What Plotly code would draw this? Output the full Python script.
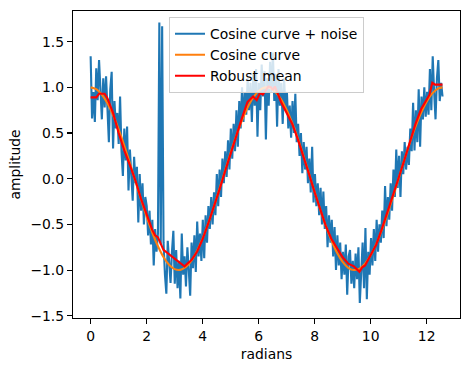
import numpy as np
import plotly.graph_objects as go

# Noisy cosine samples, evenly spaced over [0, 4*pi]
noisy_y = [
    1.34, 0.66, 0.95, 0.62, 1.21, 0.86, 1.30, 1.02, 0.65, 1.10,
    0.78, 1.12, 0.70, 0.40, 0.98, 1.17, 0.33, 0.85, 0.55, 0.72,
    0.38, 0.90, 0.30, 0.03, 0.55, 0.20, 0.57, -0.13, 0.32, 0.05,
    -0.24, 0.24, -0.05, 0.13, -0.48, 0.05, -0.35, -0.05, -0.50, -0.20,
    -0.30, -0.62, -0.35, -0.72, -0.45, -0.95, -0.55, -0.80, -0.60, 1.71,
    -0.72, 1.67, -0.70, -1.05, -1.26, -0.68, -0.95, -1.14, -0.80, -0.57,
    -1.15, -0.78, -1.20, -0.90, -1.31, -0.60, -1.05, -0.85, -1.18, -0.75,
    -1.00, -1.28, -0.70, -0.98, -0.62, -1.02, -0.47, -0.85, -0.60, -0.90,
    -0.45, -0.87, -0.40, -0.70, -0.30, -0.55, -0.20, -0.50, -0.15, -0.40,
    0.05, -0.30, 0.10, -0.20, 0.22, -0.05, 0.30, 0.02, 0.42, 0.10,
    0.55, 0.22, 0.60, 0.30, 0.75, 0.35, 0.85, 0.55, 1.00, 0.62,
    0.95, 0.70, 1.10, 0.75, 1.05, 0.62, 1.15, 0.80, 1.20, 0.46,
    1.05, 0.75, 1.25, 0.90, 1.18, 0.43, 1.10, 0.80, 1.28, 0.95,
    1.38, 0.85, 1.15, 0.57, 1.20, 0.80, 1.05, 0.60, 1.10, 0.75,
    0.95, 0.55, 0.80, 0.45, 0.85, 0.50, 0.93, 0.40, 0.60, 0.25,
    0.50, 0.06, 0.40, 0.10, 0.35, -0.05, 0.22, -0.15, 0.35, -0.26,
    0.05, -0.30, -0.05, -0.40, -0.10, -0.50, -0.14, -0.55, -0.30, -0.75,
    -0.40, -0.70, -0.45, -0.85, -0.53, -1.00, -0.62, -0.95, -0.70, -1.10,
    -0.80, -1.05, -0.72, -1.27, -0.85, -0.78, -1.15, -0.90, -1.20, -0.82,
    -1.10, -0.75, -1.36, -0.95, -0.70, -1.20, -0.54, -1.32, -0.80, -1.05,
    -0.65, -0.95, -0.55, -0.90, -0.45, -0.80, -0.50, -0.70, -0.35, -0.65,
    -0.08, -0.52, -0.20, -0.45, -0.05, -0.35, 0.10, -0.20, 0.32, -0.10,
    0.25, -0.20, 0.30, 0.05, 0.40, 0.10, 0.35, 0.15, 0.55, 0.30,
    0.83, 0.31, 0.75, 0.40, 0.98, 0.35, 0.90, 0.65, 1.00, 0.68,
    0.95, 0.70, 1.20, 0.75, 1.34, 0.95, 0.65, 1.10, 1.30, 0.85,
    1.05, 0.90,
]
noisy_x = np.linspace(0, 4 * np.pi, len(noisy_y))

# Clean cosine curve (read values)
cos_x = [0.0, 0.2, 0.4, 0.6, 0.8, 1.0, 1.2, 1.4, 1.6, 1.8, 2.0, 2.2, 2.4, 2.6, 2.8,
         3.0, 3.2, 3.4, 3.6, 3.8, 4.0, 4.2, 4.4, 4.6, 4.8, 5.0, 5.2, 5.4, 5.6, 5.8,
         6.0, 6.2, 6.4, 6.6, 6.8, 7.0, 7.2, 7.4, 7.6, 7.8, 8.0, 8.2, 8.4, 8.6, 8.8,
         9.0, 9.2, 9.4, 9.6, 9.8, 10.0, 10.2, 10.4, 10.6, 10.8, 11.0, 11.2, 11.4,
         11.6, 11.8, 12.0, 12.2, 12.4, 12.566]
cos_y = [1.000, 0.980, 0.921, 0.825, 0.697, 0.540, 0.362, 0.170, -0.029, -0.227,
         -0.416, -0.589, -0.737, -0.857, -0.942, -0.990, -0.998, -0.967, -0.897,
         -0.791, -0.654, -0.490, -0.307, -0.112, 0.087, 0.284, 0.469, 0.635, 0.776,
         0.886, 0.960, 0.997, 0.993, 0.950, 0.869, 0.754, 0.608, 0.439, 0.251, 0.054,
         -0.146, -0.339, -0.519, -0.676, -0.811, -0.911, -0.975, -0.999, -0.985,
         -0.930, -0.839, -0.714, -0.560, -0.385, -0.194, 0.004, 0.203, 0.394, 0.569,
         0.721, 0.844, 0.934, 0.986, 1.000]

# Robust mean (read values)
robust_x = [0.0, 0.2, 0.3, 0.5, 0.6, 0.8, 1.0, 1.2, 1.4, 1.6, 1.8, 2.0, 2.2, 2.3, 2.4,
            2.6, 2.8, 3.0, 3.2, 3.35, 3.45, 3.6, 3.8, 4.0, 4.2, 4.4, 4.6, 4.8, 5.0,
            5.2, 5.4, 5.6, 5.8, 5.93, 6.05, 6.15, 6.35, 6.45, 6.5, 6.58, 6.8, 7.0,
            7.2, 7.4, 7.6, 7.8, 8.0, 8.2, 8.4, 8.6, 8.8, 9.0, 9.2, 9.4, 9.6, 9.7,
            9.8, 10.0, 10.2, 10.4, 10.6, 10.8, 11.0, 11.2, 11.4, 11.6, 11.8, 12.0,
            12.1, 12.2, 12.3, 12.566]
robust_y = [0.89, 0.89, 0.93, 0.93, 0.88, 0.72, 0.50, 0.31, 0.15, -0.02, -0.22,
            -0.40, -0.56, -0.62, -0.64, -0.78, -0.83, -0.87, -0.93, -0.96, -0.93,
            -0.89, -0.80, -0.66, -0.49, -0.31, -0.12, 0.08, 0.28, 0.46, 0.66, 0.84,
            0.90, 0.86, 0.94, 0.92, 1.01, 1.00, 0.97, 1.01, 0.84, 0.72, 0.60, 0.43,
            0.25, 0.05, -0.15, -0.34, -0.52, -0.66, -0.76, -0.86, -0.93, -0.96,
            -1.02, -0.97, -0.95, -0.84, -0.72, -0.55, -0.37, -0.18, 0.01, 0.20,
            0.40, 0.60, 0.76, 0.86, 0.92, 1.05, 1.03, 1.03]

x_ticks = [0, 2, 4, 6, 8, 10, 12]
y_ticks = [-1.5, -1.0, -0.5, 0.0, 0.5, 1.0, 1.5]

FONT = "DejaVu Sans"
FS = 13.9

fig = go.Figure()
fig.add_trace(go.Scatter(x=noisy_x, y=noisy_y, mode="lines", name="Cosine curve + noise",
                         line=dict(color="#1f77b4", width=2.1)))
fig.add_trace(go.Scatter(x=cos_x, y=cos_y, mode="lines", name="Cosine curve",
                         line=dict(color="#ff7f0e", width=2.1, shape="spline")))
fig.add_trace(go.Scatter(x=robust_x, y=robust_y, mode="lines", name="Robust mean",
                         line=dict(color="#ff0000", width=2.1)))

axis_common = dict(
    showgrid=False, zeroline=False, showline=True, linecolor="black", linewidth=1.1,
    mirror=True, ticks="outside", ticklen=5, tickwidth=1.1, tickcolor="black",
    tickfont=dict(family=FONT, size=FS, color="black"), automargin=False,
)

fig.update_layout(
    width=470, height=371,
    margin=dict(l=73, r=10, t=11, b=53),
    paper_bgcolor="white", plot_bgcolor="white",
    font=dict(family=FONT, size=FS, color="black"),
    xaxis=dict(range=[-0.63, 13.19], tickvals=x_ticks,
               title=dict(text="radians", font=dict(family=FONT, size=FS), standoff=6),
               **axis_common),
    yaxis=dict(range=[-1.525, 1.836], tickvals=y_ticks, tickformat=".1f",
               title=dict(text="amplitude", font=dict(family=FONT, size=FS), standoff=6),
               **axis_common),
    legend=dict(x=0.5, xanchor="center", y=0.98, yanchor="top",
                bgcolor="rgba(255,255,255,0.8)", bordercolor="#cccccc", borderwidth=1,
                font=dict(family=FONT, size=FS, color="black"),
                tracegroupgap=0),
    showlegend=True,
    hovermode=False,
)

fig.write_html("out.html",
               config={"displayModeBar": False, "staticPlot": True},
               post_script="document.body.style.margin='0';document.body.style.padding='0';")
